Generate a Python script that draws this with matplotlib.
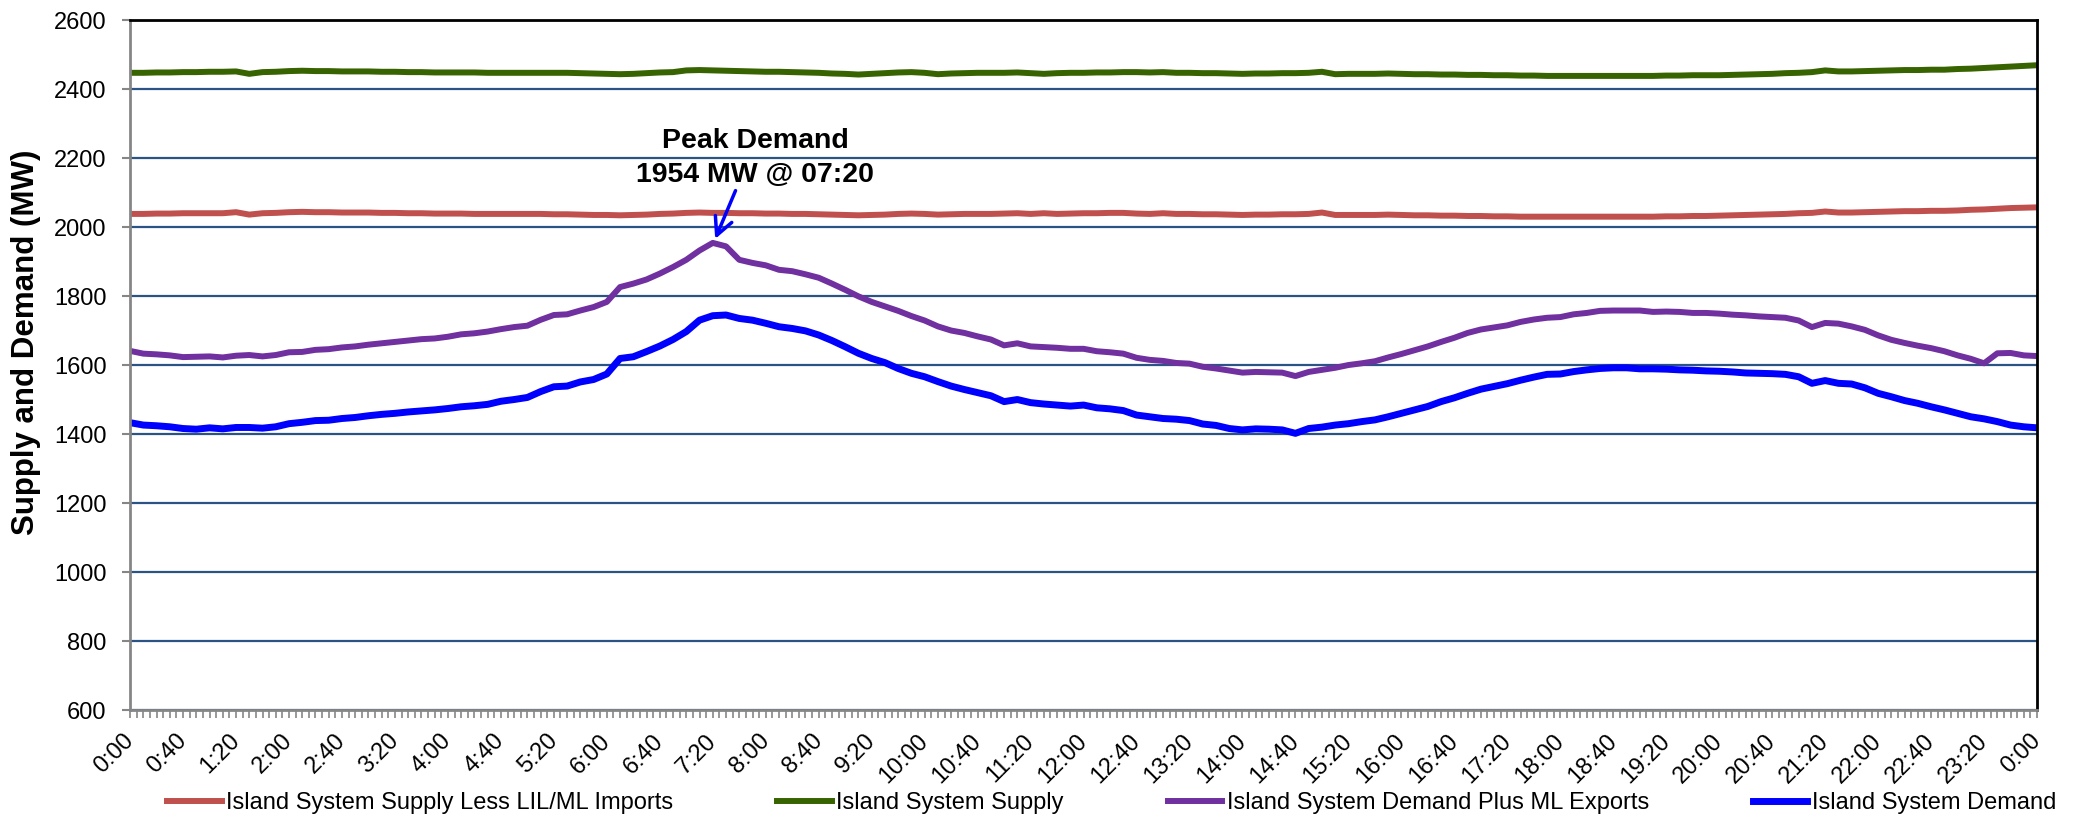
import matplotlib
matplotlib.use("Agg")
import matplotlib.pyplot as plt
import numpy as np

plt.rcParams["font.family"] = ["Liberation Sans", "DejaVu Sans"]

# minutes after midnight, one reading every 10 minutes
minutes = np.arange(0, 1441, 10)

# --- values (MW) ---
supply_less_imports = [
    2038, 2038, 2039, 2039, 2040, 2040,
    2040, 2040, 2043, 2036, 2040, 2041,
    2043, 2044, 2043, 2043, 2042, 2042,
    2042, 2041, 2041, 2040, 2040, 2039,
    2039, 2039, 2038, 2038, 2038, 2038,
    2038, 2038, 2037, 2037, 2036, 2035,
    2035, 2034, 2035, 2036, 2038, 2039,
    2041, 2042, 2041, 2041, 2040, 2040,
    2039, 2039, 2038, 2038, 2037, 2036,
    2035, 2034, 2035, 2036, 2038, 2039,
    2038, 2036, 2037, 2038, 2038, 2038,
    2039, 2040, 2038, 2040, 2038, 2039,
    2040, 2040, 2041, 2041, 2039, 2038,
    2040, 2038, 2038, 2037, 2037, 2036,
    2035, 2036, 2036, 2037, 2037, 2038,
    2042, 2035, 2035, 2035, 2035, 2036,
    2035, 2034, 2034, 2033, 2033, 2032,
    2032, 2031, 2031, 2030, 2030, 2030,
    2030, 2030, 2030, 2030, 2030, 2030,
    2030, 2030, 2031, 2031, 2032, 2032,
    2033, 2034, 2035, 2036, 2037, 2038,
    2040, 2041, 2045, 2042, 2042, 2043,
    2044, 2045, 2046, 2046, 2047, 2047,
    2048, 2050, 2051, 2053, 2055, 2056,
    2057,
]

supply = [
    2447, 2447, 2448, 2448, 2449, 2449,
    2450, 2450, 2451, 2444, 2449, 2450,
    2452, 2453, 2452, 2452, 2451, 2451,
    2451, 2450, 2450, 2449, 2449, 2448,
    2448, 2448, 2448, 2447, 2447, 2447,
    2447, 2447, 2447, 2447, 2446, 2445,
    2444, 2443, 2444, 2446, 2448, 2449,
    2454, 2455, 2454, 2453, 2452, 2451,
    2450, 2450, 2449, 2448, 2447, 2445,
    2444, 2442, 2444, 2446, 2448, 2449,
    2447, 2443, 2445, 2446, 2447, 2447,
    2447, 2448, 2446, 2444, 2446, 2447,
    2447, 2448, 2448, 2449, 2449, 2448,
    2449, 2447, 2447, 2446, 2446, 2445,
    2444, 2445, 2445, 2446, 2446, 2447,
    2450, 2443, 2444, 2444, 2444, 2445,
    2444, 2443, 2443, 2442, 2442, 2441,
    2441, 2440, 2440, 2439, 2439, 2438,
    2438, 2438, 2438, 2438, 2438, 2438,
    2438, 2438, 2439, 2439, 2440, 2440,
    2440, 2441, 2442, 2443, 2444, 2446,
    2447, 2449, 2454, 2451, 2451, 2452,
    2453, 2454, 2455, 2455, 2456, 2456,
    2458, 2459, 2461, 2463, 2465, 2467,
    2469,
]

demand_plus_exports = [
    1641, 1633, 1631, 1628, 1623, 1624,
    1625, 1622, 1627, 1629, 1625, 1629,
    1637, 1638, 1644, 1646, 1651, 1654,
    1659, 1663, 1667, 1671, 1675, 1677,
    1682, 1689, 1692, 1697, 1704, 1710,
    1714, 1731, 1745, 1747, 1758, 1768,
    1783, 1826, 1836, 1848, 1865, 1884,
    1905, 1932, 1954, 1944, 1905, 1896,
    1889, 1876, 1872, 1863, 1853, 1836,
    1818, 1799, 1783, 1770, 1757, 1742,
    1729, 1712, 1700, 1693, 1683, 1674,
    1657, 1663, 1654, 1652, 1650, 1647,
    1647, 1640, 1637, 1633, 1621, 1615,
    1612, 1606, 1604, 1595, 1590, 1584,
    1578, 1580, 1579, 1578, 1568, 1580,
    1586, 1592, 1600, 1605, 1611, 1622,
    1632, 1643, 1654, 1667, 1679, 1693,
    1703, 1709, 1715, 1725, 1732, 1737,
    1739, 1747, 1751, 1757, 1758, 1758,
    1758, 1754, 1755, 1754, 1751, 1751,
    1749, 1746, 1744, 1741, 1739, 1737,
    1729, 1710, 1722, 1720, 1712, 1702,
    1686, 1673, 1664, 1656, 1649, 1640,
    1628, 1618, 1605, 1634, 1635, 1628,
    1626,
]

demand = [
    1433, 1426, 1424, 1421, 1416, 1414,
    1418, 1415, 1419, 1419, 1417, 1421,
    1430, 1434, 1439, 1440, 1445, 1448,
    1453, 1457, 1460, 1464, 1467, 1470,
    1474, 1479, 1482, 1486, 1495, 1500,
    1506, 1523, 1537, 1539, 1551, 1558,
    1574, 1619, 1624, 1639, 1655, 1674,
    1697, 1730, 1743, 1745, 1735, 1730,
    1721, 1711, 1706, 1699, 1687, 1671,
    1653, 1634, 1619, 1607, 1590, 1576,
    1566, 1552, 1539, 1529, 1520, 1511,
    1494, 1500, 1491, 1487, 1484, 1481,
    1484, 1476, 1473, 1468, 1455, 1450,
    1445, 1443, 1439, 1429, 1425, 1416,
    1412, 1415, 1414, 1412, 1402, 1416,
    1420, 1426, 1430, 1436, 1441, 1450,
    1460, 1470, 1480, 1494, 1505, 1518,
    1530, 1538, 1546, 1556, 1565, 1573,
    1574, 1581, 1586, 1590, 1592, 1592,
    1589, 1589, 1588, 1586, 1585, 1583,
    1582, 1580, 1577, 1576, 1575, 1573,
    1566, 1547, 1555, 1547, 1545, 1534,
    1518, 1508, 1497, 1489, 1479, 1470,
    1460, 1450, 1444, 1436, 1426, 1421,
    1418,
]

tick_labels = ["0:00", "0:40", "1:20", "2:00", "2:40", "3:20", "4:00", "4:40",
               "5:20", "6:00", "6:40", "7:20", "8:00", "8:40", "9:20", "10:00",
               "10:40", "11:20", "12:00", "12:40", "13:20", "14:00", "14:40",
               "15:20", "16:00", "16:40", "17:20", "18:00", "18:40", "19:20",
               "20:00", "20:40", "21:20", "22:00", "22:40", "23:20", "0:00"]

peak_time, peak_mw = 440, 1954

fig = plt.figure(figsize=(20.78, 8.24), dpi=100)
ax = fig.add_axes([0.0626, 0.1383, 0.9177, 0.8374])

ax.plot(minutes, supply_less_imports, color="#C0504D", lw=4.3,
        label="Island System Supply Less LIL/ML Imports")
ax.plot(minutes, supply, color="#376400", lw=4.3, label="Island System Supply")
ax.plot(minutes, demand_plus_exports, color="#7030A0", lw=4.3,
        label="Island System Demand Plus ML Exports")
ax.plot(minutes, demand, color="#0000FF", lw=5, label="Island System Demand")

ax.set_xlim(0, 1440)
ax.set_ylim(600, 2600)
ax.set_yticks(range(600, 2601, 200))
ax.yaxis.grid(True, color="#2C5386", lw=1.6)
ax.set_axisbelow(True)

ax.set_xticks(np.arange(0, 1441, 40))
ax.set_xticks(np.arange(0, 1441, 5), minor=True)
ax.set_xticklabels(tick_labels, rotation=45, ha="right", va="center",
                   rotation_mode="anchor")
ax.tick_params(axis="x", which="both", length=6, width=1.2, color="#868686",
               direction="out", labelsize=17, pad=14)
ax.tick_params(axis="y", length=6, width=1.5, color="#868686",
               direction="out", labelsize=17, pad=11)

for side in ["left", "bottom"]:
    ax.spines[side].set_color("#868686")
    ax.spines[side].set_linewidth(2)
for side in ["top", "right"]:
    ax.spines[side].set_color("black")
    ax.spines[side].set_linewidth(2)

fig.text(0.0125, 0.585, "Supply and Demand (MW)", rotation=90, fontsize=22.5,
         fontweight="bold", ha="center", va="center")

# peak annotation
ax.text(472, 2200, "Peak Demand\n1954 MW @ 07:20", ha="center", va="center",
        fontsize=20.5, fontweight="bold", linespacing=1.4)
ax.annotate("", xy=(peak_time + 1, peak_mw + 4), xytext=(458, 2113),
            arrowprops=dict(arrowstyle="->", color="#0000FF", lw=2.5,
                            mutation_scale=32))

fig.legend(loc="center", bbox_to_anchor=(0.535, 0.025), ncol=4, frameon=False,
           fontsize=17, handlelength=2.3, handletextpad=0.2, columnspacing=4.4)

fig.savefig("out.png", dpi=100)
